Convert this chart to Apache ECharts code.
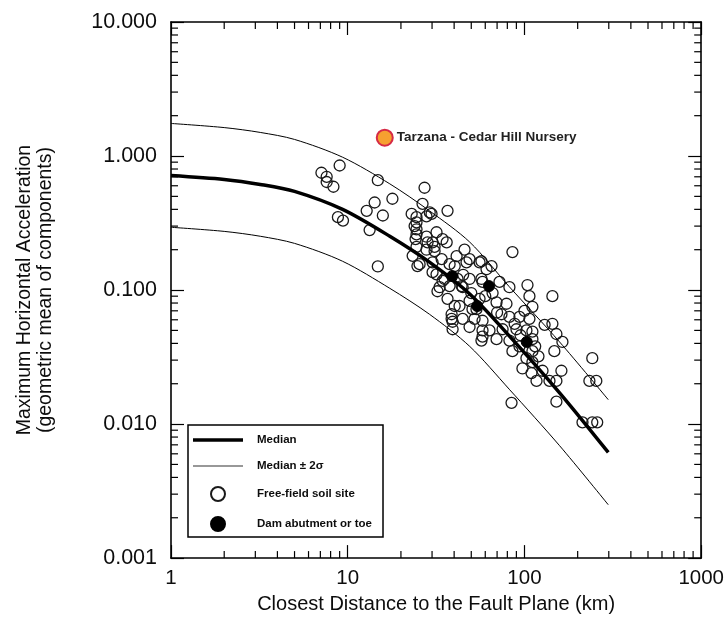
<!DOCTYPE html>
<html>
<head>
<meta charset="utf-8">
<script src="https://cdn.jsdelivr.net/npm/echarts@6/dist/echarts.min.js"></script>
<style>html,body{margin:0;padding:0;background:#fff}#c{width:727px;height:619px}</style>
</head>
<body>
<div id="c"></div>
<script>
// ---- tick labels ----
const xTickLabels = ['1', '10', '100', '1000'];
const yTickLabels = ['0.001', '0.010', '0.100', '1.000', '10.000'];
const xDecades = [1, 10, 100];
const yDecades = [0.001, 0.01, 0.1, 1];
const minorSteps = [2, 3, 4, 5, 6, 7, 8, 9];

// ---- attenuation curves ----
const curveDistance = [1, 2, 3.2, 5, 9.35, 17.3, 29, 49, 82, 158, 298];
const medianPga = [0.716, 0.669, 0.614, 0.545, 0.400, 0.252, 0.1615, 0.0934, 0.0455, 0.0171, 0.00614];
const upperPga  = [1.75, 1.63, 1.50, 1.33, 0.98, 0.62, 0.39, 0.228, 0.106, 0.041, 0.0152];
const lowerPga  = [0.294, 0.274, 0.252, 0.223, 0.164, 0.103, 0.066, 0.038, 0.0182, 0.0069, 0.0025];

// ---- recordings [distance km, PGA g] ----
const freeFieldSites = [
  [7.1,0.75],[7.6,0.70],[7.6,0.64],[8.3,0.59],[9.0,0.85],[14.8,0.66],[27.2,0.58],[17.9,0.48],[14.2,0.45],
  [12.8,0.39],[15.8,0.36],[8.8,0.35],[9.4,0.33],[13.3,0.28],[14.8,0.15],[23.0,0.37],[26.5,0.44],[29.1,0.38],
  [24.5,0.35],[36.7,0.39],[23.9,0.30],[24.5,0.26],[24.2,0.24],[24.5,0.21],[27.9,0.25],[31.8,0.27],[34.4,0.24],
  [31.0,0.21],[27.9,0.20],[23.3,0.18],[25.5,0.156],[30.2,0.161],[34.0,0.170],[37.7,0.156],[41.3,0.179],
  [45.8,0.20],[48.9,0.170],[31.8,0.131],[34.4,0.117],[32.2,0.098],[37.7,0.107],[41.8,0.121],[44.7,0.105],
  [36.7,0.086],[40.3,0.076],[38.7,0.061],[39.2,0.051],[48.9,0.083],[53.5,0.072],[52.2,0.061],[57.9,0.115],
  [61.0,0.143],[57.1,0.164],[57.9,0.050],[57.1,0.042],[29.8,0.37],[36.3,0.227],[30.2,0.227],[31.0,0.195],
  [85.5,0.192],[47.0,0.161],[40.3,0.151],[55.7,0.161],[65.1,0.151],[48.9,0.121],[57.1,0.121],[33.1,0.105],
  [44.1,0.107],[72.2,0.115],[82.2,0.105],[104,0.109],[106.7,0.090],[143.9,0.090],[110.9,0.075],[42.9,0.076],
  [38.7,0.066],[50.8,0.072],[69.5,0.081],[79.1,0.079],[55.7,0.086],[44.7,0.061],[57.9,0.059],[74.1,0.066],
  [82.2,0.063],[93.7,0.063],[106.7,0.061],[39.2,0.058],[48.9,0.053],[63.4,0.050],[75.2,0.051],[90.1,0.051],
  [102.6,0.050],[110.9,0.049],[143.9,0.056],[151.6,0.047],[164,0.041],[57.9,0.045],[69.5,0.043],[82.2,0.042],
  [110.9,0.043],[93.7,0.038],[110.9,0.035],[85.5,0.035],[147.6,0.035],[102.6,0.031],[110.9,0.029],[97.4,0.026],
  [126.5,0.025],[161.8,0.025],[242,0.031],[109.6,0.024],[117,0.021],[151.6,0.021],[138.5,0.021],[233,0.021],
  [255,0.021],[151.6,0.0147],[84.5,0.0144],[213,0.0103],[242,0.0103],[258,0.0103],[24.5,0.32],[24.5,0.284],
  [27.9,0.355],[28.3,0.227],[24.8,0.151],[30.2,0.136],[35.3,0.121],[45,0.13],[50,0.095],[60,0.09],[66,0.095],
  [70,0.068],[88,0.056],[95,0.046],[115,0.038],[120,0.032],[130,0.055],[100,0.07]
];
const damSites = [[39,0.127],[63,0.107],[54,0.076],[103,0.041]];
const tarzanaSite = [[16.2,1.37]];
const tarzanaName = 'Tarzana - Cedar Hill Nursery';

// ---- minor tick values ----
const xMinor = [];
xDecades.forEach(d => minorSteps.forEach(m => xMinor.push(d * m)));
const yMinor = [];
yDecades.forEach(d => minorSteps.forEach(m => yMinor.push(d * m)));

const FONT = "'Liberation Sans', Arial, Helvetica, sans-serif";
const INK = '#0d0d0d';

function zip(xs, ys) { return xs.map((x, i) => [x, ys[i]]); }

function renderMinorX(params, api) {
  const cs = params.coordSys;
  const x = api.coord([api.value(0), 1])[0];
  const yb = cs.y + cs.height, yt = cs.y;
  const st = { stroke: '#000', lineWidth: 1.2 };
  return { type: 'group', children: [
    { type: 'line', shape: { x1: x, y1: yb, x2: x, y2: yb - 7 }, style: st },
    { type: 'line', shape: { x1: x, y1: yt, x2: x, y2: yt + 7 }, style: st }
  ]};
}
function renderMinorY(params, api) {
  const cs = params.coordSys;
  const y = api.coord([1, api.value(1)])[1];
  const xl = cs.x, xr = cs.x + cs.width;
  const st = { stroke: '#000', lineWidth: 1.2 };
  return { type: 'group', children: [
    { type: 'line', shape: { x1: xl, y1: y, x2: xl + 7, y2: y }, style: st },
    { type: 'line', shape: { x1: xr, y1: y, x2: xr - 7, y2: y }, style: st }
  ]};
}

const axisLine = { show: true, lineStyle: { color: '#000', width: 1.6 } };
const axisTick = { show: true, inside: true, length: 13, lineStyle: { color: '#000', width: 1.2 } };

const chart = echarts.init(document.getElementById('c'), null, { renderer: 'canvas' });
chart.setOption({
  animation: false,
  backgroundColor: '#fff',
  grid: { left: 171, right: 25, top: 22, bottom: 59 },
  xAxis: [
    {
      type: 'log', logBase: 10, min: 1, max: 1000, position: 'bottom',
      name: 'Closest Distance to the Fault Plane (km)', nameLocation: 'middle', nameGap: 34,
      nameTextStyle: { fontFamily: FONT, fontSize: 20, color: INK },
      axisLine: axisLine, axisTick: axisTick, splitLine: { show: false },
      axisLabel: { margin: 10, fontFamily: FONT, fontSize: 20.5, color: INK,
        formatter: (v, i) => xTickLabels[i] }
    },
    {
      type: 'log', logBase: 10, min: 1, max: 1000, position: 'top',
      axisLine: axisLine, axisTick: axisTick, splitLine: { show: false }, axisLabel: { show: false }
    }
  ],
  yAxis: [
    {
      type: 'log', logBase: 10, min: 0.001, max: 10, position: 'left',
      name: 'Maximum Horizontal Acceleration\n(geometric mean of components)',
      nameLocation: 'middle', nameGap: 115, nameRotate: 90,
      nameTextStyle: { fontFamily: FONT, fontSize: 19.5, lineHeight: 21, color: INK },
      axisLine: axisLine, axisTick: axisTick, splitLine: { show: false },
      axisLabel: { margin: 14, fontFamily: FONT, fontSize: 21.5, color: INK,
        formatter: (v, i) => yTickLabels[i] }
    },
    {
      type: 'log', logBase: 10, min: 0.001, max: 10, position: 'right',
      axisLine: axisLine, axisTick: axisTick, splitLine: { show: false }, axisLabel: { show: false }
    }
  ],
  legend: {
    orient: 'vertical', left: 188, top: 425,
    padding: [9, 11, 5, 5], itemGap: 14, itemWidth: 50, itemHeight: 14,
    borderColor: '#000', borderWidth: 1.5, backgroundColor: '#fff',
    textStyle: { fontFamily: FONT, fontSize: 11.5, fontWeight: 'bold', color: INK, padding: [0, 0, 0, 9] },
    data: [
      { name: 'Median', icon: 'path://M0,0H50V3.6H0Z', itemStyle: { color: '#000', opacity: 1 } },
      { name: 'Median ± 2σ', icon: 'path://M0,0H50V1.1H0Z', itemStyle: { color: '#333', opacity: 1 } },
      { name: 'Free-field soil site', icon: 'circle' },
      { name: 'Dam abutment or toe', icon: 'circle', itemStyle: { color: '#000', opacity: 1 } }
    ]
  },
  series: [
    { type: 'custom', name: 'xminor', silent: true, clip: false, xAxisIndex: 0, yAxisIndex: 0,
      renderItem: renderMinorX, data: xMinor.map(v => [v, 1]), z: 1 },
    { type: 'custom', name: 'yminor', silent: true, clip: false, xAxisIndex: 0, yAxisIndex: 0,
      renderItem: renderMinorY, data: yMinor.map(v => [1, v]), z: 1 },
    {
      name: 'Free-field soil site', type: 'scatter', symbol: 'circle', symbolSize: 11,
      itemStyle: { color: 'rgba(255,255,255,0)', borderColor: '#1a1a1a', borderWidth: 1.3, opacity: 1 },
      data: freeFieldSites, z: 3
    },
    {
      name: 'Dam abutment or toe', type: 'scatter', symbol: 'circle', symbolSize: 11,
      itemStyle: { color: '#000', borderColor: '#000', borderWidth: 1, opacity: 1 },
      data: damSites, z: 4
    },
    {
      name: 'Median', type: 'line', smooth: 0.3, symbol: 'none', color: '#000',
      itemStyle: { color: '#000' },
      lineStyle: { color: '#000', width: 3.5 }, data: zip(curveDistance, medianPga), z: 5
    },
    {
      name: 'Median ± 2σ', type: 'line', smooth: 0.3, symbol: 'none', color: '#000',
      itemStyle: { color: '#000' },
      lineStyle: { color: '#000', width: 1 }, data: zip(curveDistance, upperPga), z: 5
    },
    {
      name: 'Median ± 2σ', type: 'line', smooth: 0.3, symbol: 'none', color: '#000',
      itemStyle: { color: '#000' },
      lineStyle: { color: '#000', width: 1 }, data: zip(curveDistance, lowerPga), z: 5
    },
    {
      name: tarzanaName, type: 'scatter', symbol: 'circle', symbolSize: 16,
      itemStyle: { color: '#f6a030', borderColor: '#d62a45', borderWidth: 2, opacity: 1 },
      label: { show: true, position: 'right', distance: 3, formatter: tarzanaName,
        fontFamily: FONT, fontSize: 13.5, fontWeight: 'bold', color: '#222' },
      data: tarzanaSite, z: 6
    }
  ]
});
</script>
</body>
</html>
